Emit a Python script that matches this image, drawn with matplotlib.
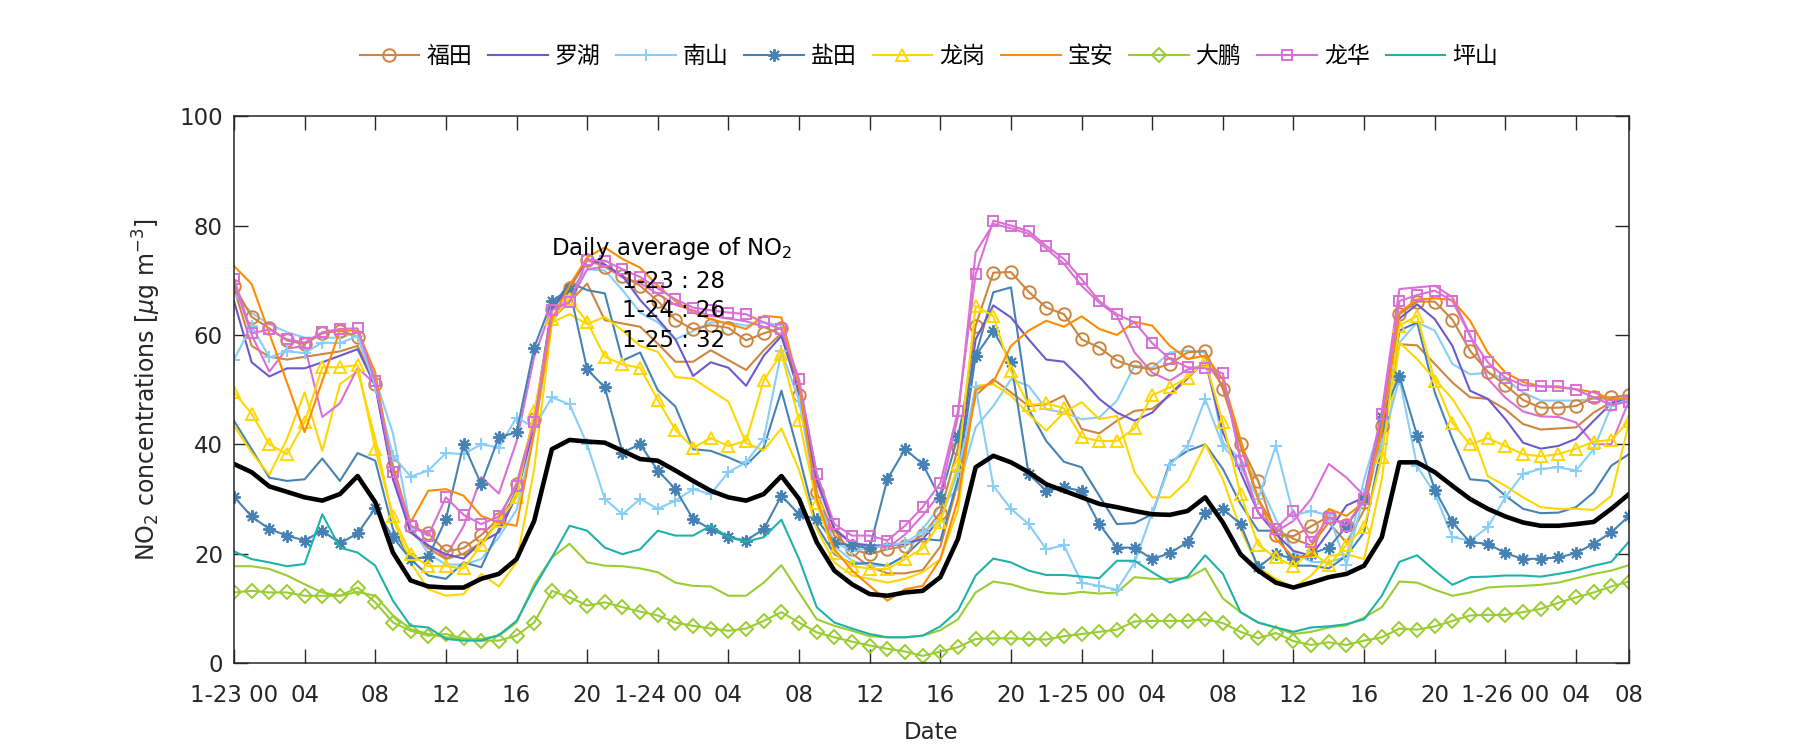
import numpy as np
import matplotlib
matplotlib.use('Agg')
import matplotlib.pyplot as plt

plt.rcParams['font.family'] = ['DejaVu Sans', 'Noto Sans CJK SC']
plt.rcParams['axes.unicode_minus'] = False

# ==========================================
# Данные: почасовые концентрации NO2 (1-23 00 ... 1-26 07)
# ==========================================
hours = np.arange(80)

tick_pos = list(range(0, 77, 4)) + [79]
tick_labels = ['1-23 00', '04', '08', '12', '16', '20',
               '1-24 00', '04', '08', '12', '16', '20',
               '1-25 00', '04', '08', '12', '16', '20',
               '1-26 00', '04', '08']

district_names = ['福田', '罗湖', '南山', '盐田', '龙岗', '宝安', '大鹏', '龙华', '坪山']

futian = [69.0, 63.3, 61.2, 59.0, 58.3, 60.3, 60.8, 59.7, 51.0, 36.1, 25.1, 23.7, 20.4, 21.0, 23.4, 26.4, 32.8, 44.6, 64.7, 68.5, 73.7,
          72.5, 70.8, 69.0, 66.2, 62.8, 61.0, 61.8, 61.3, 59.0, 60.3, 61.3, 49.0, 31.2, 23.3, 20.8, 19.9, 20.8, 21.4, 23.4, 27.5,
          39.4, 61.7, 71.4, 71.5, 67.9, 65.0, 63.8, 59.2, 57.7, 55.3, 54.2, 53.7, 54.7, 56.8, 57.1, 50.1, 40.0, 33.3, 23.4, 23.2,
          25.0, 26.8, 25.2, 29.5, 43.4, 63.8, 66.1, 66.1, 62.8, 57.1, 53.3, 50.8, 48.1, 46.7, 46.7, 47.0, 48.6, 48.6, 49.0]
luohu = [66.2, 55.0, 52.4, 53.9, 53.9, 55.0, 56.2, 57.4, 50.7, 33.6, 23.9, 21.5, 19.9, 19.1, 22.1, 23.9, 30.6, 43.4, 64.7, 69.0, 73.9,
         72.9, 70.8, 66.4, 62.9, 59.2, 52.5, 55.0, 54.0, 50.7, 56.2, 59.8, 49.5, 33.6, 24.5, 21.8, 21.5, 21.5, 21.8, 22.7, 26.3,
         35.5, 59.2, 65.4, 63.2, 59.2, 55.5, 55.1, 51.9, 48.3, 45.8, 44.3, 45.8, 49.2, 52.2, 55.3, 42.2, 34.9, 27.5, 23.6, 20.5,
         19.6, 24.0, 28.8, 30.3, 45.0, 63.0, 65.6, 62.9, 58.0, 49.8, 48.3, 44.6, 40.3, 39.2, 39.7, 41.0, 44.3, 47.5, 48.3]
nanshan = [55.5, 61.7, 55.9, 57.0, 56.7, 58.6, 58.5, 59.8, 50.7, 37.9, 34.1, 35.2, 38.4, 38.2, 40.0, 39.4, 44.9, 43.1, 48.6, 47.3, 40.0,
           30.0, 27.2, 30.0, 28.2, 29.7, 31.8, 30.9, 34.9, 36.7, 41.0, 57.0, 48.0, 30.0, 22.0, 20.5, 21.0, 21.5, 22.0, 24.0, 26.0,
           35.0, 50.4, 32.4, 28.2, 25.4, 20.8, 21.5, 14.7, 14.1, 13.4, 18.4, 27.5, 36.2, 39.7, 48.3, 39.7, 36.0, 30.0, 39.7, 27.0,
           27.8, 27.0, 18.0, 31.0, 40.0, 52.0, 36.0, 31.0, 23.0, 22.4, 24.8, 30.3, 34.6, 35.5, 35.8, 35.2, 39.1, 47.0, 48.3]
yantian = [30.4, 26.8, 24.5, 23.3, 22.4, 24.2, 21.9, 23.7, 28.3, 23.0, 19.0, 19.4, 26.3, 40.0, 32.7, 41.3, 42.2, 57.7, 66.2, 68.4, 53.7,
           50.4, 38.5, 40.0, 35.2, 31.8, 26.3, 24.5, 23.0, 22.4, 24.5, 30.6, 27.2, 26.3, 22.0, 21.5, 21.0, 33.6, 39.1, 36.4, 30.1,
           41.6, 56.2, 60.8, 55.1, 34.6, 31.5, 32.1, 31.5, 25.4, 21.1, 21.1, 19.0, 20.1, 22.1, 27.5, 28.2, 25.4, 17.5, 20.0, 19.0,
           20.0, 21.1, 25.0, 30.0, 45.0, 52.5, 41.6, 31.7, 25.7, 22.1, 21.8, 20.1, 19.0, 19.1, 19.3, 20.1, 21.8, 23.9, 26.9]
longgang = [49.5, 45.6, 40.0, 38.2, 44.0, 54.1, 54.1, 54.5, 39.1, 26.9, 19.9, 17.7, 17.7, 17.3, 21.5, 26.0, 30.3, 46.0, 62.9, 66.5, 62.4,
            56.0, 54.6, 54.0, 48.1, 42.6, 39.4, 41.1, 39.7, 40.6, 51.7, 56.6, 44.4, 29.2, 20.2, 17.8, 17.2, 17.2, 19.0, 21.0, 25.7,
            36.4, 65.3, 63.5, 53.4, 47.2, 47.5, 46.6, 41.3, 40.6, 40.6, 42.9, 49.0, 50.4, 52.2, 55.3, 44.0, 30.9, 21.6, 19.3, 17.7,
            20.4, 17.9, 21.6, 24.8, 37.6, 61.7, 63.5, 51.6, 43.9, 40.0, 41.1, 39.7, 38.2, 37.8, 38.2, 39.2, 40.5, 40.8, 44.3]
baoan = [72.6, 69.3, 60.3, 51.3, 42.2, 51.6, 60.8, 60.8, 53.1, 34.9, 25.7, 31.5, 31.8, 30.6, 26.9, 25.7, 25.1, 42.2, 62.9, 69.0, 74.2,
         76.0, 73.9, 72.3, 69.0, 66.2, 64.1, 62.9, 62.0, 61.1, 63.5, 63.2, 50.7, 29.9, 20.8, 16.9, 14.1, 11.4, 13.5, 14.1, 19.0,
         30.0, 49.9, 51.4, 58.0, 60.8, 62.6, 61.5, 63.4, 61.1, 60.0, 62.4, 61.7, 58.0, 55.6, 56.2, 51.9, 40.9, 30.0, 22.7, 19.3,
         19.6, 28.2, 26.9, 29.4, 42.8, 64.1, 66.5, 66.7, 66.4, 62.6, 56.8, 53.1, 51.4, 50.6, 50.4, 50.1, 49.5, 48.3, 48.3]
dapeng = [12.9, 13.2, 12.9, 12.9, 12.3, 12.3, 12.3, 13.8, 11.1, 7.4, 5.9, 5.0, 5.3, 4.5, 4.1, 4.1, 5.0, 7.4, 13.2, 12.0, 10.5,
          11.1, 10.2, 9.4, 8.7, 7.4, 6.8, 6.3, 5.9, 6.3, 7.7, 9.3, 7.4, 5.6, 4.7, 3.9, 3.2, 2.6, 2.1, 1.3, 2.1,
          2.9, 4.4, 4.5, 4.5, 4.4, 4.3, 4.9, 5.3, 5.7, 6.1, 7.6, 7.7, 7.7, 7.7, 8.0, 7.3, 5.7, 4.5, 5.5, 4.0,
          3.3, 3.8, 3.3, 4.1, 4.7, 6.3, 6.1, 6.7, 7.7, 8.7, 8.8, 8.8, 9.3, 9.9, 11.0, 12.0, 12.9, 14.0, 14.9]
longhua = [70.3, 60.3, 61.0, 59.2, 58.6, 60.5, 61.1, 61.2, 51.6, 34.9, 25.1, 23.3, 30.3, 27.1, 25.4, 26.8, 32.4, 44.0, 64.5, 66.0, 73.7,
           73.6, 72.0, 70.6, 68.5, 66.5, 65.0, 64.5, 64.1, 63.8, 62.3, 61.0, 51.9, 34.6, 25.4, 23.3, 23.3, 22.4, 25.1, 28.5, 32.9,
           46.1, 71.1, 80.9, 80.0, 79.0, 76.3, 73.9, 70.2, 66.2, 63.8, 62.3, 58.5, 55.6, 54.1, 53.9, 53.0, 37.0, 27.5, 24.5, 27.8,
           22.1, 26.6, 25.1, 30.0, 45.5, 66.2, 67.3, 68.1, 66.2, 59.8, 55.0, 52.2, 50.8, 50.6, 50.6, 50.0, 48.6, 47.2, 47.8]
pingshan = [20.4, 19.0, 18.4, 17.7, 18.1, 27.2, 21.1, 20.2, 17.8, 11.4, 6.8, 6.5, 4.4, 4.1, 4.1, 5.1, 7.7, 13.8, 19.3, 25.1, 24.2,
            21.1, 19.9, 20.8, 24.2, 23.3, 23.3, 25.1, 23.0, 22.2, 23.0, 26.2, 19.0, 10.2, 7.4, 6.3, 5.3, 4.7, 4.7, 5.0, 6.7,
            9.6, 16.0, 19.1, 18.4, 16.9, 16.1, 16.1, 15.8, 15.5, 18.7, 18.7, 16.6, 14.7, 15.8, 19.7, 16.3, 9.3, 7.4, 6.5, 5.7,
            6.5, 6.7, 7.1, 8.0, 12.3, 18.5, 19.7, 16.9, 14.3, 15.7, 15.8, 16.0, 16.0, 15.8, 16.3, 16.9, 17.8, 18.5, 22.2]

# прочие станции (без подписи в легенде)
extra_brown = [68.5, 58.0, 56.0, 55.5, 56.0, 56.5, 57.0, 58.0, 51.0, 35.0, 24.0, 21.0, 19.0, 20.0, 22.0, 26.0, 31.0, 44.0, 63.0, 66.0, 69.4,
               62.7, 62.1, 61.5, 58.4, 55.1, 55.1, 57.2, 55.4, 53.6, 57.2, 60.3, 50.5, 34.7, 24.3, 20.0, 17.6, 16.4, 16.4, 17.0, 21.3,
               33.0, 48.9, 51.9, 49.5, 47.0, 47.3, 48.9, 42.8, 42.0, 44.3, 46.1, 46.5, 48.9, 52.0, 55.3, 50.7, 39.7, 30.0, 24.5, 22.7,
               21.5, 25.7, 22.0, 28.0, 42.0, 58.3, 58.1, 54.7, 51.3, 48.6, 48.3, 46.4, 43.7, 42.7, 42.9, 43.1, 45.8, 47.7, 48.0]
extra_lightblue = [67.5, 64.0, 62.0, 60.5, 59.5, 59.5, 59.5, 60.5, 52.0, 42.0, 25.0, 20.0, 18.0, 18.0, 19.0, 23.0, 28.0, 42.0, 62.0, 68.0, 72.0,
                   71.8, 68.2, 64.1, 62.3, 59.2, 60.7, 62.3, 62.3, 61.7, 62.3, 61.7, 50.7, 31.2, 21.4, 18.7, 17.8, 17.8, 19.6, 24.5, 28.8,
                   31.8, 43.1, 47.0, 51.9, 50.7, 46.4, 45.8, 44.6, 44.9, 48.0, 54.4, 54.0, 56.8, 57.1, 56.8, 40.3, 37.3, 33.3, 26.3, 20.2,
                   18.5, 18.4, 19.5, 33.6, 44.6, 58.6, 62.3, 60.8, 54.7, 52.8, 53.1, 51.9, 49.5, 48.0, 48.0, 48.0, 48.3, 48.3, 48.6]
extra_steelblue = [44.3, 39.1, 33.9, 33.3, 33.6, 37.4, 33.3, 38.4, 37.0, 24.5, 19.0, 16.0, 15.4, 18.4, 17.5, 24.5, 31.8, 44.6, 65.0, 69.6, 68.2,
                   67.6, 55.3, 56.8, 49.9, 46.9, 39.1, 38.8, 37.6, 36.2, 39.4, 49.8, 37.9, 25.1, 19.9, 18.1, 18.3, 17.8, 19.6, 22.7, 22.4,
                   33.6, 56.2, 67.8, 68.7, 46.4, 40.6, 36.8, 35.8, 30.6, 25.4, 25.6, 27.2, 36.7, 38.8, 40.0, 35.5, 29.1, 24.2, 24.2, 17.8,
                   17.8, 17.3, 19.6, 23.9, 39.7, 60.8, 62.3, 49.5, 41.0, 33.6, 33.3, 30.6, 28.2, 27.4, 27.5, 28.5, 31.2, 36.1, 38.2]
extra_gold = [43.4, 38.5, 34.4, 41.0, 49.5, 38.8, 51.0, 53.4, 41.0, 26.3, 18.4, 13.5, 12.3, 12.6, 16.3, 14.0, 18.4, 35.5, 62.3, 63.8, 62.0,
              63.3, 60.8, 58.0, 56.9, 52.3, 52.0, 49.9, 47.8, 40.2, 38.9, 42.9, 35.3, 24.5, 18.4, 16.0, 15.4, 14.7, 15.4, 16.6, 19.0,
              28.0, 50.7, 51.0, 48.9, 45.5, 42.5, 45.8, 47.7, 44.6, 45.2, 34.9, 30.3, 30.3, 33.3, 40.0, 33.6, 24.5, 17.5, 15.4, 13.8,
              16.0, 19.6, 19.9, 19.0, 33.6, 58.6, 55.6, 51.9, 48.3, 43.1, 34.2, 32.4, 30.3, 28.5, 28.2, 28.2, 28.0, 30.6, 44.0]
extra_green = [17.7, 17.7, 17.2, 16.0, 14.4, 12.9, 12.3, 13.0, 12.3, 8.7, 6.2, 5.3, 4.7, 4.4, 4.4, 5.0, 7.4, 14.4, 19.3, 21.8, 18.4,
               17.8, 17.7, 17.3, 16.6, 14.7, 14.1, 14.0, 12.3, 12.3, 14.7, 17.9, 12.9, 8.0, 6.8, 5.9, 4.9, 4.7, 4.7, 5.0, 6.0,
               8.0, 12.9, 14.9, 14.4, 13.4, 12.8, 12.6, 13.0, 12.7, 12.9, 15.7, 15.4, 15.4, 15.5, 17.3, 11.8, 9.3, 7.4, 6.5, 5.3,
               5.7, 6.5, 6.9, 8.3, 10.2, 14.9, 14.7, 13.4, 12.3, 12.9, 13.8, 14.0, 14.1, 14.3, 14.7, 15.5, 16.3, 16.9, 17.9]
extra_orchid = [69.5, 60.0, 53.3, 57.5, 58.0, 45.0, 47.5, 54.0, 51.0, 34.0, 24.0, 21.5, 19.5, 25.0, 34.0, 31.0, 40.5, 56.0, 65.0, 66.0, 72.0,
                72.5, 70.5, 69.5, 67.5, 65.5, 64.5, 63.5, 63.0, 62.5, 61.5, 60.0, 51.0, 33.0, 24.5, 22.0, 21.5, 21.0, 23.5, 27.0, 31.0,
                45.0, 75.1, 80.3, 79.5, 78.5, 75.8, 73.0, 69.0, 65.9, 63.5, 56.8, 53.1, 51.6, 53.7, 54.4, 52.0, 37.5, 27.5, 24.0, 26.0,
                30.0, 36.4, 33.9, 30.6, 46.0, 68.4, 68.7, 69.0, 66.9, 60.0, 52.0, 48.5, 46.0, 45.1, 45.0, 44.0, 40.0, 40.0, 48.0]

# среднее по станциям
average = [36.4, 34.9, 32.3, 31.3, 30.3, 29.7, 30.9, 34.2, 29.4, 20.2, 15.1, 14.0, 13.8, 13.8, 15.4, 16.3, 19.0, 26.0, 39.1, 40.8, 40.5,
           40.3, 38.8, 37.3, 37.0, 35.2, 33.3, 31.5, 30.3, 29.7, 30.9, 34.2, 30.0, 22.1, 16.9, 14.4, 12.6, 12.3, 12.9, 13.2, 15.7,
           22.7, 35.8, 37.9, 36.7, 34.9, 32.7, 31.5, 30.3, 29.1, 28.5, 27.8, 27.2, 27.1, 27.8, 30.3, 25.7, 19.9, 16.9, 14.7, 13.8,
           14.7, 15.7, 16.3, 17.8, 23.0, 36.7, 36.7, 34.9, 32.4, 30.0, 28.2, 26.8, 25.7, 25.1, 25.1, 25.4, 25.8, 28.2, 30.9]

daily_avg_days = ['1-23', '1-24', '1-25']
daily_avg_vals = [28, 26, 32]

# цвета
C_BROWN = '#CD853F'
C_PURPLE = '#6A5ACD'
C_LBLUE = '#87CEFA'
C_SBLUE = '#4682B4'
C_GOLD = '#FFD700'
C_ORANGE = '#FF8C00'
C_GREEN = '#9ACD32'
C_ORCHID = '#DA70D6'
C_TEAL = '#20B2AA'

ASTERISK = (8, 2, 0)  # звёздочка как в MATLAB '*'

# ==========================================
# Рисунок
# ==========================================
fig = plt.figure(figsize=(18, 7.5), dpi=100)
ax = fig.add_axes([0.13, 0.116, 0.775, 0.729])

lw = 1.5
for vals, col in [(extra_brown, C_BROWN), (extra_lightblue, C_LBLUE), (extra_steelblue, C_SBLUE),
                  (extra_gold, C_GOLD), (extra_green, C_GREEN), (extra_orchid, C_ORCHID)]:
    ax.plot(hours, vals, '-', color=col, lw=lw)

styles = [
    (futian, C_BROWN, 'o', 9),
    (luohu, C_PURPLE, None, 0),
    (nanshan, C_LBLUE, '+', 9),
    (yantian, C_SBLUE, ASTERISK, 9),
    (longgang, C_GOLD, '^', 9),
    (baoan, C_ORANGE, None, 0),
    (dapeng, C_GREEN, 'D', 7),
    (longhua, C_ORCHID, 's', 6.5),
    (pingshan, C_TEAL, None, 0),
]
handles = []
for (vals, col, mk, ms), name in zip(styles, district_names):
    h, = ax.plot(hours, vals, '-', color=col, lw=lw, marker=mk, markersize=ms,
                 markerfacecolor='none', markeredgecolor=col, markeredgewidth=1.4, label=name)
    handles.append(h)

ax.plot(hours, average, '-', color='black', lw=3.3)

ax.set_xlim(0, 79)
ax.set_ylim(0, 100)
ax.set_xticks(tick_pos)
ax.set_xticklabels(tick_labels)
ax.set_yticks(np.arange(0, 101, 20))

ax.tick_params(direction='in', length=10, width=1, top=True, right=True,
               labelsize=16.5, colors='#262626')
ax.tick_params(axis='x', pad=15)
ax.tick_params(axis='y', pad=8)
for sp in ax.spines.values():
    sp.set_color('#262626')
    sp.set_linewidth(1.1)

ax.set_xlabel('Date', fontsize=16.5, color='#262626', labelpad=10)
ax.set_ylabel('NO$_2$ concentrations [$\\mu$g m$^{-3}$]', fontsize=17, color='#262626', labelpad=12)

# текст со среднесуточными значениями
ax.text(24.8, 75.9, 'Daily average of NO$_2$', fontsize=16.5, ha='center', va='center', color='black')
for i, (d, v) in enumerate(zip(daily_avg_days, daily_avg_vals)):
    ax.text(22.0, 69.8 - 5.4 * i, f'{d} : {v}', fontsize=16.5, ha='left', va='center', color='black')

fig.legend(handles=handles, loc='center', bbox_to_anchor=(0.516, 0.925), ncol=9, frameon=False,
           fontsize=16.5, handlelength=2.6, handletextpad=0.3, columnspacing=0.7)

fig.savefig('out.png', dpi=100)
